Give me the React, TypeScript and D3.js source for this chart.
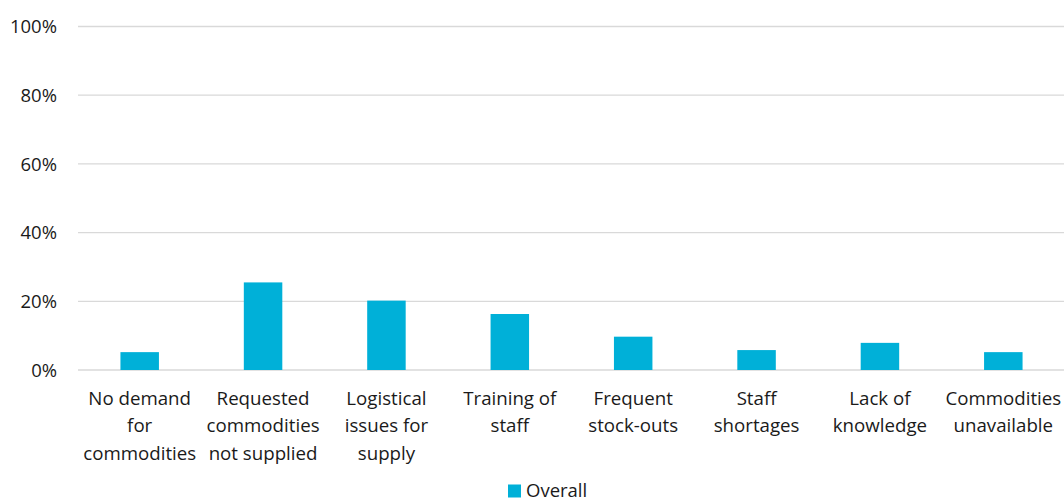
import React, { useEffect, useRef } from 'react';
import { select, scaleBand, scaleLinear } from 'd3';

const categories = [
  ['No demand', 'for', 'commodities'],
  ['Requested', 'commodities', 'not supplied'],
  ['Logistical', 'issues for', 'supply'],
  ['Training of', 'staff'],
  ['Frequent', 'stock-outs'],
  ['Staff', 'shortages'],
  ['Lack of', 'knowledge'],
  ['Commodities', 'unavailable'],
];
const overall = [5.2, 25.5, 20.2, 16.3, 9.7, 5.8, 7.9, 5.2];
const yTicks = [0, 20, 40, 60, 80, 100];
const seriesName = 'Overall';

const WIDTH = 1064;
const HEIGHT = 499;
const FONT = '"Open Sans", Lato, sans-serif';
const BAR_COLOR = '#00B0D8';
const TEXT_COLOR = '#1a1a1a';

export default function App() {
  const ref = useRef<SVGSVGElement>(null);

  useEffect(() => {
    const svg = select(ref.current);
    svg.selectAll('*').remove();

    const left = 78;
    const right = 1065;
    const top = 26.5;
    const bottom = 370;

    const x = scaleBand<number>()
      .domain(overall.map((d, i) => i))
      .range([left, right])
      .padding(0);
    const y = scaleLinear().domain([0, 100]).range([bottom, top]);
    const barW = x.bandwidth() * 0.312;

    // gridlines
    svg
      .append('g')
      .selectAll('line')
      .data(yTicks)
      .enter()
      .append('line')
      .attr('x1', left)
      .attr('x2', WIDTH)
      .attr('y1', d => y(d))
      .attr('y2', d => y(d))
      .attr('stroke', '#d9d9d9')
      .attr('stroke-width', 1.3);

    // y tick labels
    svg
      .append('g')
      .selectAll('text')
      .data(yTicks)
      .enter()
      .append('text')
      .attr('x', 57)
      .attr('y', d => y(d))
      .attr('dy', '0.36em')
      .attr('text-anchor', 'end')
      .attr('font-family', FONT)
      .attr('font-size', 18.5)
      .attr('fill', TEXT_COLOR)
      .text(d => `${d}%`);

    // bars
    svg
      .append('g')
      .selectAll('rect')
      .data(overall)
      .enter()
      .append('rect')
      .attr('x', (d, i) => (x(i) as number) + x.bandwidth() / 2 - barW / 2)
      .attr('y', d => y(d))
      .attr('width', barW)
      .attr('height', d => bottom - y(d))
      .attr('fill', BAR_COLOR);

    // category labels
    const labels = svg
      .append('g')
      .selectAll('text')
      .data(categories)
      .enter()
      .append('text')
      .attr('text-anchor', 'middle')
      .attr('font-family', FONT)
      .attr('font-size', 18.7)
      .attr('fill', TEXT_COLOR);
    labels
      .selectAll('tspan')
      .data((d, i) => d.map(line => ({ line, i })))
      .enter()
      .append('tspan')
      .attr('x', d => (x(d.i) as number) + x.bandwidth() / 2)
      .attr('y', (d, j) => 405 + j * 27.3)
      .text(d => d.line);

    // legend
    const legend = svg.append('g');
    legend
      .append('rect')
      .attr('x', 508)
      .attr('y', 484.5)
      .attr('width', 13)
      .attr('height', 13)
      .attr('fill', BAR_COLOR);
    legend
      .append('text')
      .attr('x', 526)
      .attr('y', 496.5)
      .attr('font-family', FONT)
      .attr('font-size', 18.5)
      .attr('fill', TEXT_COLOR)
      .text(seriesName);
  }, []);

  return (
    <svg
      ref={ref}
      width={WIDTH}
      height={HEIGHT}
      style={{ position: 'absolute', left: 0, top: 0, background: '#fff' }}
    />
  );
}
